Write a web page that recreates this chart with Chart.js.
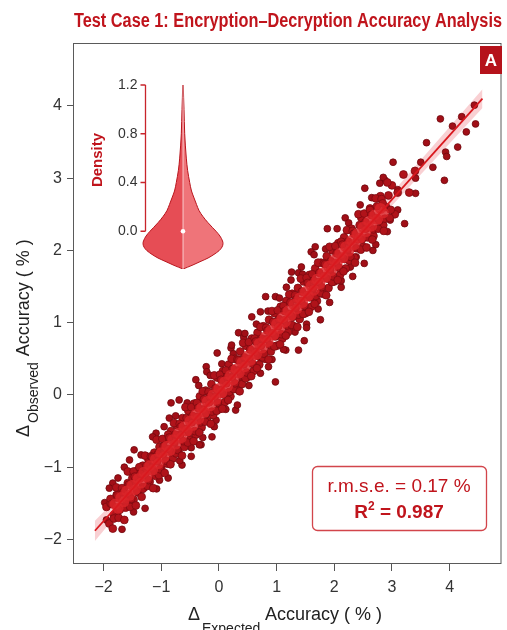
<!DOCTYPE html>
<html>
<head>
<meta charset="utf-8">
<script src="https://cdn.jsdelivr.net/npm/chart.js@4.4.0/dist/chart.umd.min.js"></script>
<style>
  html, body { margin: 0; padding: 0; background: #fff; }
  #wrap { position: relative; width: 507px; height: 630px; }
  #wrap canvas { position: absolute; left: 0; top: 0; }
  #inset { pointer-events: none; }
</style>
</head>
<body>
<div id="wrap">
  <canvas id="main" width="507" height="630" style="width:507px;height:630px"></canvas>
  <canvas id="inset" width="507" height="630" style="width:507px;height:630px"></canvas>
</div>
<script>
const SANS = '"Liberation Sans", Arial, Helvetica, sans-serif';
const RED = '#c0141c';

const chartTitle = 'Test Case 1: Encryption\u2013Decryption Accuracy Analysis';
const panelTag = 'A';
const xTicks = [-2, -1, 0, 1, 2, 3, 4];
const yTicks = [-2, -1, 0, 1, 2, 3, 4];
const statRmse = 'r.m.s.e. = 0.17 %';
const statR2 = '0.987';

// fitted line + confidence band
const fitX = [-2.15, 4.57];
const fitY = [-1.88, 4.10];
const bandX = [-2.15, -1.5, -0.5, 0.5, 1.5, 2.5, 3.5, 4.57];
const bandUpper = [-1.74, -1.22, -0.37, 0.52, 1.42, 2.33, 3.25, 4.23];
const bandLower = [-2.02, -1.40, -0.47, 0.44, 1.32, 2.19, 3.05, 3.97];

// scattered points away from the band
const outerPoints = [
  [4.43,4.01],[4.21,3.85],[3.84,3.82],[4.05,3.72],[4.45,3.75],[4.29,3.64],[3.6,3.49],[4.14,3.43],
  [3.93,3.36],[3.95,3.3],[3.02,3.22],[3.5,3.22],[3.71,3.15],[3.91,2.97],[3.22,2.37],[2.88,2.97],
  [3.41,3.0],[2.53,2.86],[2.79,2.93],[2.67,2.0],[1.88,2.3],[2.19,2.45],[1.67,2.05],[1.6,1.98],
  [2.28,1.77],[1.43,1.77],[1.26,1.7],[1.52,1.59],[2.12,1.49],[2.38,1.91],[3.1,2.84],[3.1,2.56],
  [3.41,2.79],[2.97,2.42],[1.76,1.04],[1.48,0.75],[1.52,0.98],[1.16,0.62],[0.81,1.36],[0.98,1.36],
  [0.57,1.08],[0.72,1.15],[1.38,1.69],[1.17,1.49],[0.34,0.86],[0.21,0.65],[-0.03,0.58],[-0.22,0.39],
  [0.86,0.39],[0.72,0.51],[0.98,0.18],[-0.21,0.32],[-0.83,-0.11],[-0.69,-0.07],[-0.86,-0.32],
  [-1.09,-0.53],[-1.47,-0.76],[-1.64,-1.0],[-1.84,-1.22],[-1.9,-1.29],[-1.98,-1.49],[-1.5,-1.49],
  [-1.33,-1.27],[-1.03,-1.08],[-0.91,-0.94],[-0.64,-0.97],[-0.48,-0.73],[-0.31,-0.69],[-0.12,-0.58],
  [-0.05,-0.35],[0.29,-0.21],[0.4,0.21],[0.43,0.8],[0.22,0.69],[-0.4,0.21],[-1.38,-1.13],
  [-1.78,-1.38],[-0.34,-0.69],[-1.03,-1.18],[-1.41,-1.31],[-1.95,-1.73],[1.38,0.62]
];

// ragged edge of the cloud
const fringePoints = [
  [-1.75,-1.15],[-1.68,-1.86],[-1.55,-0.9],[-1.48,-1.62],[-1.35,-0.83],[-1.28,-1.57],
  [-1.15,-0.58],[-1.08,-1.3],[-0.95,-0.44],[-0.88,-1.15],[-0.75,-0.29],[-0.68,-0.91],
  [-0.55,-0.11],[-0.48,-0.85],[-0.35,0.13],[-0.28,-0.59],[-0.15,0.27],[-0.08,-0.44],
  [0.05,0.43],[0.12,-0.2],[0.25,0.57],[0.32,-0.14],[0.45,0.85],[0.52,0.13],
  [0.65,0.98],[0.72,0.3],[0.85,1.16],[0.92,0.49],[1.05,1.34],[1.12,0.63],
  [1.25,1.59],[1.32,0.87],[1.45,1.67],[1.52,0.93],[1.65,1.94],[1.72,1.19],
  [1.85,2.02],[1.92,1.28],[2.05,2.3],[2.12,1.58],[2.25,2.38],[2.32,1.64],
  [2.45,2.63],[2.52,1.82],[2.65,2.73],[2.72,2.08],[2.85,3.01],[2.92,2.26]
];

// dense cloud around the band
const densePoints = [
  [-1.95,-1.55],[-1.9,-1.78],[-1.88,-1.5],[-1.82,-1.66],[-1.78,-1.42],[-1.75,-1.6],
  [-1.7,-1.35],[-1.68,-1.55],[-1.65,-1.3],[-1.6,-1.5],[-1.58,-1.22],[-1.55,-1.4],
  [-1.5,-1.15],[-1.48,-1.45],[-1.45,-1.2],[-1.42,-1.05],[-1.4,-1.35],[-1.36,-1.15],
  [-1.32,-0.98],[-1.3,-1.28],[-1.27,-1.08],[-1.22,-0.9],[-1.2,-1.2],[-1.17,-1.0],
  [-1.12,-0.8],[-1.1,-1.12],[-1.07,-0.92],[-1.03,-0.72],[-1.0,-1.02],[-0.97,-0.82],
  [-0.93,-0.62],[-0.9,-0.95],[-0.87,-0.75],[-0.83,-0.5],[-0.8,-0.88],[-0.77,-0.66],
  [-0.73,-0.42],[-0.7,-0.8],[-0.67,-0.55],[-0.63,-0.32],[-0.6,-0.72],[-0.57,-0.47],
  [-0.53,-0.22],[-0.5,-0.62],[-0.47,-0.38],[-0.43,-0.12],[-0.4,-0.55],[-0.37,-0.3],
  [-0.33,-0.02],[-0.3,-0.45],[-0.27,-0.2],[-0.23,0.06],[-0.2,-0.36],[-0.17,-0.1],
  [-0.13,0.15],[-0.1,-0.28],[-0.07,-0.02],[-0.03,0.24],[0.0,-0.2],[0.03,0.07],
  [0.07,0.33],[0.1,-0.1],[0.13,0.16],[0.17,0.42],[0.2,-0.02],[0.23,0.25],
  [0.27,0.5],[0.3,0.08],[0.33,0.34],[0.37,0.6],[0.4,0.15],[0.43,0.42],
  [0.47,0.68],[0.5,0.25],[0.53,0.5],[0.57,0.78],[0.6,0.33],[0.63,0.6],
  [0.67,0.86],[0.7,0.42],[0.73,0.68],[0.77,0.95],[0.8,0.5],[0.83,0.77],
  [0.87,1.04],[0.9,0.6],[0.93,0.85],[0.97,1.13],[1.0,0.68],[1.03,0.95],
  [1.07,1.22],[1.1,0.78],[1.13,1.03],[1.17,1.3],[1.2,0.87],[1.23,1.12],
  [1.27,1.4],[1.3,0.95],[1.33,1.2],[1.37,1.48],[1.4,1.05],[1.43,1.3],
  [1.47,1.57],[1.5,1.13],[1.53,1.38],[1.57,1.66],[1.6,1.22],[1.63,1.47],
  [1.67,1.75],[1.7,1.3],[1.73,1.56],[1.77,1.83],[1.8,1.4],[1.83,1.64],
  [1.87,1.92],[1.9,1.48],[1.93,1.73],[1.97,2.0],[2.0,1.57],[2.03,1.82],
  [2.07,2.1],[2.1,1.66],[2.13,1.9],[2.17,2.18],[2.2,1.75],[2.23,2.0],
  [2.3,2.3],[2.35,1.9],[2.4,2.15],[2.47,2.45],[2.5,2.05],[2.55,2.3],
  [2.62,2.58],[2.68,2.2],[2.72,2.45],[2.8,2.75],[2.85,2.35],[2.9,2.6],
  [3.0,2.9],[3.05,2.5],[3.1,2.8],[3.2,3.05],[3.3,2.8],[3.4,3.1],
  [-1.88,-1.44],[-1.84,-1.85],[-1.86,-1.51],[-1.82,-1.71],[-1.78,-1.28],[-1.74,-1.7],[-1.76,-1.39],[-1.72,-1.59],
  [-1.68,-1.29],[-1.64,-1.73],[-1.66,-1.35],[-1.62,-1.56],[-1.58,-1.06],[-1.54,-1.55],[-1.56,-1.24],[-1.52,-1.44],
  [-1.48,-1.06],[-1.44,-1.53],[-1.46,-1.13],[-1.42,-1.33],[-1.38,-1.0],[-1.34,-1.41],[-1.36,-1.09],[-1.32,-1.3],
  [-1.28,-0.84],[-1.24,-1.26],[-1.26,-0.98],[-1.22,-1.18],[-1.18,-0.85],[-1.14,-1.29],[-1.16,-0.86],[-1.12,-1.06],
  [-1.08,-0.62],[-1.04,-1.11],[-1.06,-0.82],[-1.02,-1.03],[-0.98,-0.61],[-0.94,-1.08],[-0.96,-0.71],[-0.92,-0.91],
  [-0.88,-0.55],[-0.84,-0.96],[-0.86,-0.59],[-0.82,-0.79],[-0.78,-0.39],[-0.74,-0.81],[-0.76,-0.55],[-0.72,-0.76],
  [-0.68,-0.4],[-0.64,-0.84],[-0.66,-0.44],[-0.62,-0.64],[-0.58,-0.17],[-0.54,-0.66],[-0.56,-0.32],[-0.52,-0.52],
  [-0.48,-0.17],[-0.44,-0.64],[-0.46,-0.29],[-0.42,-0.5],[-0.38,-0.11],[-0.34,-0.52],[-0.36,-0.18],[-0.32,-0.38],
  [-0.28,0.05],[-0.24,-0.37],[-0.26,-0.06],[-0.22,-0.26],[-0.18,0.04],[-0.14,-0.4],[-0.16,-0.02],[-0.12,-0.23],
  [-0.08,0.27],[-0.04,-0.22],[-0.06,0.09],[-0.02,-0.11],[0.02,0.28],[0.06,-0.19],[0.04,0.21],[0.08,0.01],
  [0.12,0.34],[0.16,-0.07],[0.14,0.25],[0.18,0.04],[0.22,0.5],[0.26,0.08],[0.24,0.36],[0.28,0.16],
  [0.32,0.49],[0.36,0.05],[0.34,0.48],[0.38,0.28],[0.42,0.72],[0.46,0.23],[0.44,0.52],[0.48,0.31],
  [0.52,0.73],[0.56,0.26],[0.54,0.63],[0.58,0.43],[0.62,0.78],[0.66,0.37],[0.64,0.74],[0.68,0.54],
  [0.72,0.94],[0.76,0.52],[0.74,0.78],[0.78,0.57],[0.82,0.93],[0.86,0.49],[0.84,0.89],[0.88,0.69],
  [0.92,1.16],[0.96,0.67],[0.94,1.01],[0.98,0.81],[1.02,1.17],[1.06,0.7],[1.04,1.05],[1.08,0.84],
  [1.12,1.23],[1.16,0.82],[1.14,1.16],[1.18,0.96],[1.22,1.39],[1.26,0.97],[1.24,1.28],[1.28,1.08],
  [1.32,1.38],[1.36,0.94],[1.34,1.32],[1.38,1.11],[1.42,1.61],[1.46,1.12],[1.44,1.43],[1.48,1.23],
  [1.52,1.62],[1.56,1.15],[1.54,1.55],[1.58,1.35],[1.62,1.67],[1.66,1.26],[1.64,1.58],[1.68,1.37],
  [1.72,1.83],[1.76,1.41],[1.74,1.69],[1.78,1.49],[1.82,1.82],[1.86,1.38],[1.84,1.81],[1.88,1.61],
  [1.92,2.05],[1.96,1.56],[1.94,1.85],[1.98,1.64],[2.02,2.06],[2.06,1.59],[2.04,1.96],[2.08,1.76],
  [2.12,2.12],[2.16,1.71],[2.14,2.08],[2.18,1.88],[2.22,2.28],[2.26,1.86],[2.24,2.12],[2.28,1.91],
  [2.32,2.27],[2.36,1.83],[2.34,2.23],[2.38,2.03],[2.42,2.5],[2.46,2.01],[2.44,2.35],[2.48,2.15],
  [2.52,2.51],[2.56,2.04],[2.54,2.39],[2.58,2.18],[2.62,2.56],[2.66,2.15],[2.64,2.49],[2.68,2.29],
  [2.72,2.72],[2.76,2.3],[2.74,2.61],[2.78,2.41],[2.82,2.71],[2.86,2.27],[2.84,2.65],[2.88,2.44],
  [2.92,2.94],[2.96,2.45],[2.94,2.76],[2.98,2.56]
];

// brightest centre of the cloud
const corePoints = [
  [-1.8,-1.51],[-1.75,-1.57],[-1.7,-1.42],[-1.65,-1.48],[-1.6,-1.33],[-1.55,-1.39],
  [-1.5,-1.25],[-1.45,-1.31],[-1.4,-1.16],[-1.35,-1.22],[-1.3,-1.07],[-1.25,-1.13],
  [-1.2,-0.98],[-1.15,-1.04],[-1.1,-0.89],[-1.05,-0.95],[-1.0,-0.8],[-0.95,-0.86],
  [-0.9,-0.71],[-0.85,-0.77],[-0.8,-0.62],[-0.75,-0.68],[-0.7,-0.53],[-0.65,-0.59],
  [-0.6,-0.44],[-0.55,-0.5],[-0.5,-0.36],[-0.45,-0.42],[-0.4,-0.27],[-0.35,-0.33],
  [-0.3,-0.18],[-0.25,-0.24],[-0.2,-0.09],[-0.15,-0.15],[-0.1,0.0],[-0.05,-0.06],
  [0.0,0.09],[0.05,0.03],[0.1,0.18],[0.15,0.12],[0.2,0.27],[0.25,0.21],
  [0.3,0.36],[0.35,0.3],[0.4,0.45],[0.45,0.39],[0.5,0.54],[0.55,0.48],
  [0.6,0.62],[0.65,0.56],[0.7,0.71],[0.75,0.65],[0.8,0.8],[0.85,0.74],
  [0.9,0.89],[0.95,0.83],[1.0,0.98],[1.05,0.92],[1.1,1.07],[1.15,1.01],
  [1.2,1.16],[1.25,1.1],[1.3,1.25],[1.35,1.19],[1.4,1.34],[1.45,1.28],
  [1.5,1.43],[1.55,1.37],[1.6,1.51],[1.65,1.45],[1.7,1.6],[1.75,1.54],
  [1.8,1.69],[1.85,1.63],[1.9,1.78],[1.95,1.72],[2.0,1.87],[2.05,1.81],
  [2.1,1.96],[2.15,1.9],[2.2,2.05],[2.25,1.99],[2.3,2.14],[2.35,2.08],
  [2.4,2.23],[2.45,2.17],[2.5,2.32],[2.55,2.26],[2.6,2.4],[2.65,2.34],
  [2.7,2.49],[2.75,2.43],[2.8,2.58],[2.85,2.52]
];

// inset violin of density
const violinDensity = [1.2, 1.1, 1.0, 0.9, 0.8, 0.7, 0.6, 0.5, 0.4, 0.33, 0.28, 0.22, 0.17, 0.12, 0.07, 0.03, 0.0,
  -0.04, -0.08, -0.1, -0.13, -0.16, -0.19, -0.22, -0.25, -0.28, -0.31];
const violinHalfWidth = [0.3, 0.6, 1.0, 1.3, 1.7, 2.4, 3.3, 4.6, 6.7, 8.5, 10.7, 13.5, 16, 20, 25, 29.5, 33,
  37, 39.5, 40, 39, 36, 31, 25, 17, 9, 0];
const violinTicks = [0.0, 0.4, 0.8, 1.2];
const violinMedian = 0.0;

const fmtTick = v => (v < 0 ? '\u2212' + Math.abs(v) : String(v));
const toXY = arr => arr.map(p => ({ x: p[0], y: p[1] }));

// box, subscript axis titles, title, tag and stats box
const decorPlugin = {
  id: 'decor',
  beforeDatasetsDraw(chart) {
    const { ctx, chartArea: a } = chart;
    ctx.save();
    ctx.strokeStyle = '#5a5a5a';
    ctx.lineWidth = 1;
    ctx.strokeRect(a.left + 0.5, a.top + 0.5, a.right - a.left - 1, a.bottom - a.top - 1);
    ctx.restore();
  },
  afterDatasetsDraw(chart) {
    const { ctx } = chart;
    ctx.save();
    // stats box
    ctx.beginPath();
    ctx.roundRect(312.5, 466.5, 174, 64, 5);
    ctx.fillStyle = '#fff';
    ctx.fill();
    ctx.strokeStyle = '#d2454b';
    ctx.lineWidth = 1.3;
    ctx.stroke();
    ctx.fillStyle = RED;
    ctx.textBaseline = 'alphabetic';
    ctx.textAlign = 'center';
    ctx.font = `19px ${SANS}`;
    ctx.fillText(statRmse, 399, 492);
    ctx.textAlign = 'left';
    ctx.font = `bold 19px ${SANS}`;
    const wR = ctx.measureText('R').width;
    const rest = ' = ' + statR2;
    const wRest = ctx.measureText(rest).width;
    ctx.font = `bold 12px ${SANS}`;
    const w2 = ctx.measureText('2').width;
    let x0 = 399 - (wR + w2 + wRest) / 2;
    ctx.font = `bold 19px ${SANS}`;
    ctx.fillText('R', x0, 518);
    ctx.font = `bold 12px ${SANS}`;
    ctx.fillText('2', x0 + wR, 510);
    ctx.font = `bold 19px ${SANS}`;
    ctx.fillText(rest, x0 + wR + w2, 518);
    ctx.restore();
  },
  afterDraw(chart) {
    const { ctx } = chart;
    ctx.save();
    // title, squeezed to the condensed width of the original
    ctx.fillStyle = RED;
    ctx.font = `bold 20px ${SANS}`;
    ctx.textBaseline = 'alphabetic';
    ctx.textAlign = 'left';
    const tw = ctx.measureText(chartTitle).width;
    ctx.save();
    ctx.translate(74, 27);
    ctx.scale(428 / tw, 1);
    ctx.fillText(chartTitle, 0, 0);
    ctx.restore();
    // panel tag
    ctx.fillStyle = '#b5121b';
    ctx.fillRect(480, 46, 22, 28);
    ctx.fillStyle = '#fff';
    ctx.font = `bold 17px ${SANS}`;
    ctx.textAlign = 'center';
    ctx.textBaseline = 'middle';
    ctx.fillText(panelTag, 491, 61);
    // x axis title
    ctx.fillStyle = '#222';
    ctx.textAlign = 'left';
    ctx.textBaseline = 'alphabetic';
    ctx.font = `18px ${SANS}`;
    ctx.fillText('\u0394', 188, 620);
    ctx.font = `14px ${SANS}`;
    ctx.fillText('Expected', 202, 633);
    ctx.font = `18px ${SANS}`;
    ctx.fillText('Accuracy ( % )', 265, 620);
    // y axis title
    ctx.translate(29, 437);
    ctx.rotate(-Math.PI / 2);
    ctx.font = `18px ${SANS}`;
    ctx.fillText('\u0394', 0, 0);
    const wd = ctx.measureText('\u0394').width;
    ctx.font = `14px ${SANS}`;
    ctx.fillText('Observed', wd + 2, 9);
    const wo = ctx.measureText('Observed').width;
    ctx.font = `18px ${SANS}`;
    ctx.fillText('Accuracy ( % )', wd + wo + 8, 0);
    ctx.restore();
  }
};

const mainChart = new Chart(document.getElementById('main'), {
  type: 'scatter',
  data: {
    datasets: [
      { type: 'line', data: toXY(bandX.map((x, i) => [x, bandUpper[i]])), borderWidth: 0, pointRadius: 0, fill: false, order: 10 },
      { type: 'line', data: toXY(bandX.map((x, i) => [x, bandLower[i]])), borderWidth: 0, pointRadius: 0, fill: 0,
        backgroundColor: 'rgba(238,120,130,0.35)', order: 10 },
      { data: toXY(outerPoints), pointRadius: 3.4, backgroundColor: '#a10f17', borderColor: '#6e080d', borderWidth: 0.8, order: 7 },
      { data: toXY(fringePoints), pointRadius: 3.4, backgroundColor: '#a10f17', borderColor: '#6e080d', borderWidth: 0.8, order: 6 },
      { data: toXY(densePoints), pointRadius: 3.9, backgroundColor: '#b0131a', borderColor: '#7e0a10', borderWidth: 0.8, order: 5 },
      { data: toXY(corePoints), pointRadius: 5.5, backgroundColor: 'rgba(218,36,42,0.82)', borderWidth: 0, order: 4 },
      { type: 'line', data: toXY(fitX.map((x, i) => [x, fitY[i]])), borderColor: '#d9191f', borderWidth: 1.8, pointRadius: 0, fill: false, order: 1 }
    ]
  },
  options: {
    responsive: false,
    animation: false,
    layout: { padding: { top: 43, right: 3, left: 0, bottom: 0 } },
    plugins: { legend: { display: false }, tooltip: { enabled: false } },
    scales: {
      x: {
        type: 'linear', min: -2.53, max: 4.9,
        afterBuildTicks: s => { s.ticks = xTicks.map(v => ({ value: v })); },
        afterFit: s => { s.height = 66; },
        border: { display: false },
        grid: { drawOnChartArea: false, drawTicks: true, tickLength: 7, color: '#555' },
        ticks: { autoSkip: false, maxRotation: 0, padding: 7, color: '#333', font: { family: SANS, size: 16 }, callback: v => fmtTick(v) }
      },
      y: {
        type: 'linear', min: -2.34, max: 4.87,
        afterBuildTicks: s => { s.ticks = yTicks.map(v => ({ value: v })); },
        afterFit: s => { s.width = 73; },
        border: { display: false },
        grid: { drawOnChartArea: false, drawTicks: true, tickLength: 6, color: '#555' },
        ticks: { autoSkip: false, padding: 5, color: '#333', font: { family: SANS, size: 16 }, callback: v => fmtTick(v) }
      }
    }
  },
  plugins: [decorPlugin]
});

// inset axis drawn with the inset scales
const insetAxisPlugin = {
  id: 'insetAxis',
  afterDatasetsDraw(chart) {
    const { ctx } = chart;
    const xs = chart.scales.x, ys = chart.scales.y;
    const cx = xs.getPixelForValue(0);
    ctx.save();
    ctx.strokeStyle = 'rgba(255,255,255,0.65)';
    ctx.lineWidth = 1;
    ctx.beginPath();
    ctx.moveTo(cx, ys.getPixelForValue(violinDensity[0]));
    ctx.lineTo(cx, ys.getPixelForValue(violinDensity[violinDensity.length - 1]));
    ctx.stroke();
    ctx.fillStyle = '#fff';
    ctx.beginPath();
    ctx.arc(cx, ys.getPixelForValue(violinMedian), 2.3, 0, Math.PI * 2);
    ctx.fill();
    // axis
    const ax = xs.getPixelForValue(-38) + 0.5;
    const yTop = ys.getPixelForValue(violinTicks[violinTicks.length - 1]);
    const yBot = ys.getPixelForValue(violinTicks[0]);
    ctx.strokeStyle = '#c8242b';
    ctx.lineWidth = 1.3;
    ctx.beginPath();
    ctx.moveTo(ax, yTop);
    ctx.lineTo(ax, yBot);
    violinTicks.forEach(v => {
      const py = ys.getPixelForValue(v);
      ctx.moveTo(ax, py);
      ctx.lineTo(ax - 5, py);
    });
    ctx.stroke();
    ctx.fillStyle = '#333';
    ctx.font = `14px ${SANS}`;
    ctx.textAlign = 'right';
    ctx.textBaseline = 'middle';
    violinTicks.forEach(v => ctx.fillText(v.toFixed(1), ax - 8, ys.getPixelForValue(v)));
    ctx.translate(102, 160);
    ctx.rotate(-Math.PI / 2);
    ctx.textAlign = 'center';
    ctx.textBaseline = 'alphabetic';
    ctx.fillStyle = RED;
    ctx.font = `bold 15px ${SANS}`;
    ctx.fillText('Density', 0, 0);
    ctx.restore();
  }
};

const insetChart = new Chart(document.getElementById('inset'), {
  type: 'line',
  data: {
    datasets: [
      { data: violinDensity.map((d, i) => ({ x: violinHalfWidth[i], y: d })), fill: 'origin',
        backgroundColor: 'rgba(238,104,110,0.92)', borderColor: '#b8141c', borderWidth: 1, pointRadius: 0,
        cubicInterpolationMode: 'monotone' },
      { data: violinDensity.map((d, i) => ({ x: -violinHalfWidth[i], y: d })), fill: 'origin',
        backgroundColor: 'rgba(228,62,70,0.92)', borderColor: '#b8141c', borderWidth: 1, pointRadius: 0,
        cubicInterpolationMode: 'monotone' }
    ]
  },
  options: {
    indexAxis: 'y',
    responsive: false,
    animation: false,
    layout: { padding: { left: 141, right: 282, top: 85, bottom: 361 } },
    plugins: { legend: { display: false }, tooltip: { enabled: false } },
    scales: {
      x: { type: 'linear', min: -42, max: 42, display: false },
      y: { type: 'linear', min: -0.31, max: 1.2, display: false }
    }
  },
  plugins: [insetAxisPlugin]
});
</script>
</body>
</html>
